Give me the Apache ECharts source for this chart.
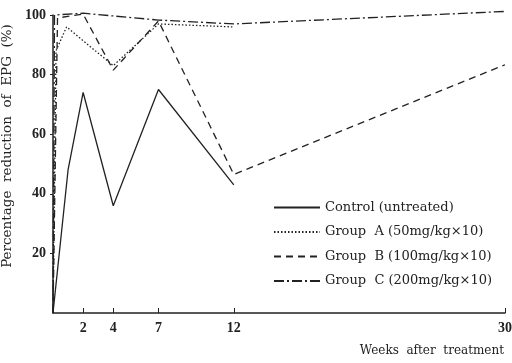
<!DOCTYPE html>
<html><head><meta charset="utf-8">
<script src="https://cdn.jsdelivr.net/npm/echarts@6/dist/echarts.min.js"></script>
<style>html,body{margin:0;padding:0;background:#fff}#c{width:512px;height:363px}</style>
</head><body><div id="c"></div>
<script>
var xTicks = [2, 4, 7, 12, 30];
var yTicks = [20, 40, 60, 80, 100];
var seriesNames = ['Control (untreated)', 'Group  A (50mg/kg×10)', 'Group  B (100mg/kg×10)', 'Group  C (200mg/kg×10)'];
var controlWeeks = [0, 1, 2, 4, 7, 12];
var controlValues = [0, 48, 74, 36, 75, 43];
var groupAWeeks = [0, 0.2, 0.9, 4, 7, 12];
var groupAValues = [0, 88, 96, 83, 97, 96];
var groupBWeeks = [0, 0.3, 2, 4, 7, 12, 30];
var groupBValues = [0, 99, 100.3, 81.5, 98, 46.5, 83.3];
var groupCWeeks = [0, 0.1, 2, 7, 12, 30];
var groupCValues = [0, 100, 100.6, 98.3, 97, 101.2];

function pairs(w, v) { return w.map(function (x, i) { return [x, v[i]]; }); }
var dashes = ['solid', [1.5, 2], [7, 5], [10, 3, 2, 3]];
var allData = [pairs(controlWeeks, controlValues), pairs(groupAWeeks, groupAValues), pairs(groupBWeeks, groupBValues), pairs(groupCWeeks, groupCValues)];
var font = '"DejaVu Serif", "Liberation Serif", serif';
var numFont = '"Liberation Serif", serif';
var chart = echarts.init(document.getElementById('c'), null, {renderer: 'canvas'});
chart.setOption({
  animation: false,
  backgroundColor: '#fff',
  textStyle: {fontFamily: font, color: '#222'},
  grid: {left: 53, right: 7, top: 15, bottom: 50, outerBoundsMode: 'none', containLabel: false},
  legend: {
    orient: 'vertical', left: 268, top: 196, itemWidth: 46, itemHeight: 12, itemGap: 11.5,
    itemStyle: {opacity: 0},
    textStyle: {fontFamily: font, fontSize: 13, color: '#222'},
    data: seriesNames
  },
  xAxis: {
    type: 'value', min: 0, max: 30,
    name: 'Weeks  after  treatment', nameLocation: 'end',
    nameTextStyle: {fontFamily: font, fontSize: 12, color: '#222', align: 'right', verticalAlign: 'top', padding: [32, 0, 0, 0]},
    nameGap: -1,
    splitLine: {show: false},
    axisLine: {lineStyle: {color: '#222', width: 1.5}},
    axisTick: {inside: true, length: 5, customValues: xTicks, lineStyle: {color: '#222'}},
    axisLabel: {customValues: xTicks, fontFamily: numFont, fontSize: 14, fontWeight: 'bold', color: '#222', margin: 8}
  },
  yAxis: {
    type: 'value', min: 0, max: 100, interval: 20,
    name: 'Percentage  reduction  of  EPG  (%)', nameLocation: 'middle', nameGap: 14,
    nameTextStyle: {fontFamily: font, fontSize: 13.5, color: '#222', padding: [0, 0, 0, 36]},
    splitLine: {show: false},
    axisLine: {show: true, lineStyle: {color: '#222', width: 1.5}},
    axisTick: {show: true, inside: false, length: 3, lineStyle: {color: '#222'}},
    axisLabel: {fontFamily: numFont, fontSize: 14, fontWeight: 'bold', color: '#222', margin: 7, showMinLabel: false,
      formatter: function (v) { return yTicks.indexOf(v) >= 0 ? String(v) : ''; }}
  },
  series: seriesNames.map(function (n, i) {
    return {
      name: n, type: 'line', data: allData[i], symbol: 'none', clip: false,
      lineStyle: {color: '#222', width: 1.3, type: dashes[i]},
      itemStyle: {color: '#222'}
    };
  })
});
</script></body></html>
